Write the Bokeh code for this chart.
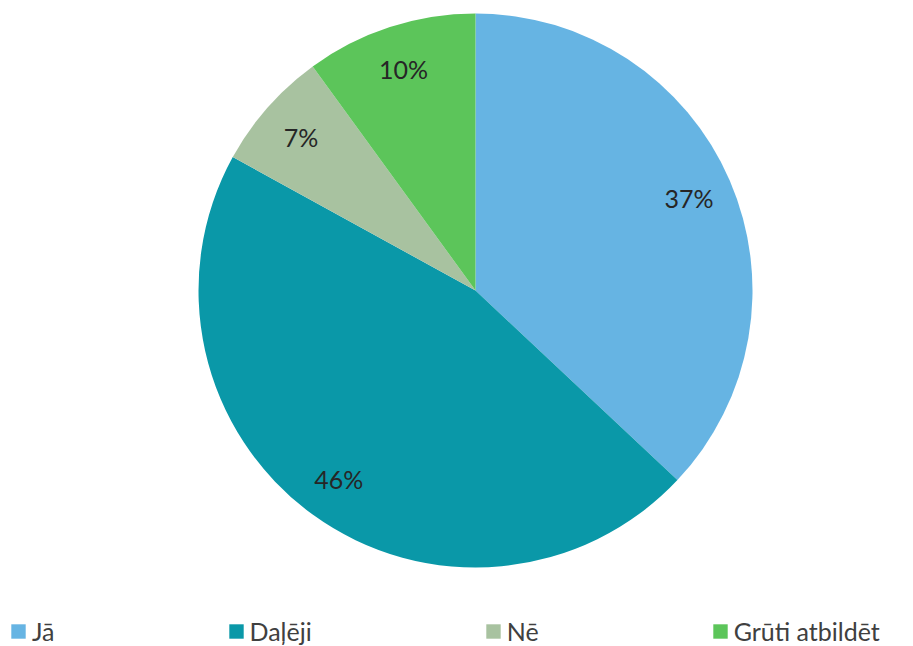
import math
from bokeh.plotting import figure
from bokeh.models import ColumnDataSource, Range1d, Legend, LegendItem
from bokeh.embed import file_html
from bokeh.resources import INLINE

categories = ["Jā", "Daļēji", "Nē", "Grūti atbildēt"]
values = [37, 46, 7, 10]
labels = ["37%", "46%", "7%", "10%"]
colors = ["#66B4E3", "#0A98A8", "#A8C2A0", "#5CC55A"]

W, H = 905, 646
p = figure(width=W, height=H, output_backend="svg", toolbar_location=None,
           x_range=Range1d(0, W), y_range=Range1d(646 - H, 646),
           min_border=0, outline_line_color=None)
p.axis.visible = False
p.grid.visible = False
p.background_fill_color = "white"

cx, cy, r = 475, 356, 277
total = sum(values)
starts, ends, lx, ly = [], [], [], []
cum = 0
for v in values:
    a0 = math.pi / 2 - 2 * math.pi * cum / total
    cum += v
    a1 = math.pi / 2 - 2 * math.pi * cum / total
    starts.append(a0)
    ends.append(a1)
    mid = (a0 + a1) / 2
    lx.append(cx + 0.84 * r * math.cos(mid))
    ly.append(cy + 0.84 * r * math.sin(mid))

src = ColumnDataSource(dict(cat=categories, start=starts, end=ends, color=colors,
                            lab=labels, lx=lx, ly=ly,
                            x=[cx] * 4, y=[cy] * 4))
w = p.wedge(x="x", y="y", radius=r, start_angle="start", end_angle="end",
            direction="clock", fill_color="color", line_color=None,
            source=src)
p.text(x="lx", y="ly", text="lab", source=src, text_align="center",
       text_baseline="middle", text_font_size="25px", text_color="#262626",
       text_font={"value": "Lato"})

items = [LegendItem(label=c, renderers=[w], index=i) for i, c in enumerate(categories)]
legend = Legend(items=items, orientation="horizontal", location=(9, 0),
                label_text_font="Lato", label_text_font_size="25px",
                label_text_color="#404040", glyph_width=18, glyph_height=18,
                label_standoff=5, spacing=172, padding=0, margin=0,
                border_line_color=None, background_fill_alpha=0)
p.add_layout(legend)

open("out.html", "w").write(file_html(p, INLINE))
